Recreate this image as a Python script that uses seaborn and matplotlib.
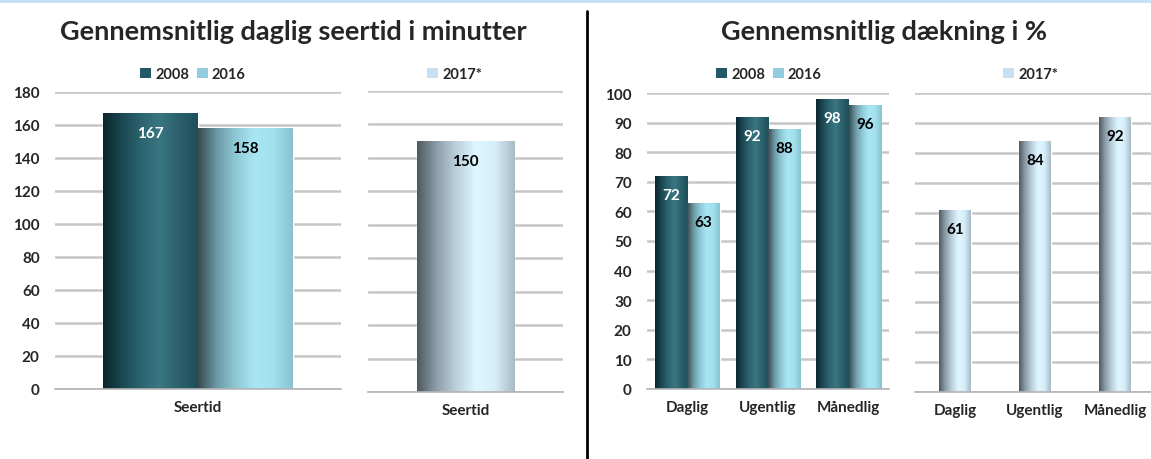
import matplotlib
matplotlib.use("Agg")
import matplotlib.pyplot as plt
import numpy as np
import pandas as pd
import seaborn as sns
from matplotlib.colors import LinearSegmentedColormap
from matplotlib.patches import Patch, Rectangle
from matplotlib.lines import Line2D

# data
seertid_kat = ["Seertid"]
seertid_2008 = [167]
seertid_2016 = [158]
seertid_2017 = [150]

daekning_kat = ["Daglig", "Ugentlig", "Månedlig"]
daekning_2008 = [72, 92, 98]
daekning_2016 = [63, 88, 96]
daekning_2017 = [61, 84, 92]

aar_gammel = ["2008", "2016"]
aar_ny = ["2017*"]

titel_venstre = "Gennemsnitlig daglig seertid i minutter"
titel_hoejre = "Gennemsnitlig dækning i %"

# farver
legend_farver = {"2008": "#215a66", "2016": "#93cddd", "2017*": "#c6e0f2"}
gradienter = {
    "2008": ["#0b252c", "#1b4852", "#2c6470", "#3a7682", "#2b606c", "#1d4f5a"],
    "2016": ["#3a4a50", "#6c9aa6", "#90c9d6", "#a9e6f4", "#a3e0ee", "#86c2d0"],
    "2017*": ["#4c5962", "#8d9eaa", "#bccfdb", "#def6ff", "#d6eef9", "#a9bac4"],
}
tekst_farver = {"2008": "white", "2016": "black", "2017*": "black"}

W, H = 1151, 460

sns.set_style("white")
plt.rcParams["font.family"] = ["Lato", "DejaVu Sans"]
plt.rcParams["font.weight"] = "bold"

fig = plt.figure(figsize=(W / 100, H / 100), dpi=100)


def px_axes(x0, x1, y_top, y_bund):
    return fig.add_axes([x0 / W, 1 - y_bund / H, (x1 - x0) / W, (y_bund - y_top) / H])


def tegn(ax, kategorier, serier, niveauer, bredde, ymax, ystep, vis_y):
    rows = []
    for niveau, vaerdier in zip(niveauer, serier):
        for k, v in zip(kategorier, vaerdier):
            rows.append({"kategori": k, "værdi": v, "år": niveau})
    df = pd.DataFrame(rows)
    sns.barplot(data=df, x="kategori", y="værdi", hue="år", hue_order=niveauer,
                order=kategorier, palette=legend_farver, width=bredde,
                saturation=1, legend=False, ax=ax, errorbar=None)

    for container, niveau in zip(ax.containers, niveauer):
        cmap = LinearSegmentedColormap.from_list(niveau, gradienter[niveau])
        for bar, v in zip(container.patches, container.datavalues):
            x0, y0 = bar.get_x(), bar.get_y()
            w, h = bar.get_width(), bar.get_height()
            img = ax.imshow(np.linspace(0, 1, 256)[None, :], cmap=cmap,
                            extent=[x0, x0 + w, y0, y0 + h], aspect="auto",
                            zorder=bar.get_zorder(), interpolation="bicubic")
            img.set_clip_path(bar)
            ax.annotate(f"{v:.0f}", (x0 + w / 2, y0 + h), xytext=(0, -14),
                        textcoords="offset points", ha="center", va="center",
                        fontsize=11, fontweight="bold",
                        color=tekst_farver[niveau], zorder=5)

    n = len(kategorier)
    ax.set_xlim(-0.5, n - 0.5)
    ax.set_ylim(0, ymax)
    ax.set_yticks(np.arange(0, ymax + 1, ystep))
    ax.set_xticks(range(n))
    ax.set_xticklabels(kategorier)
    ax.set_xticks(np.arange(-0.5, n), minor=True)
    ax.set_xlabel("")
    ax.set_ylabel("")
    ax.yaxis.grid(True, color="#c6c6c6", lw=1.8)
    ax.xaxis.grid(False)
    ax.set_axisbelow(True)
    for s in ["top", "right", "left"]:
        ax.spines[s].set_visible(False)
    ax.spines["bottom"].set_color("#b4b4b4")
    ax.spines["bottom"].set_linewidth(1.2)
    ax.tick_params(axis="x", which="minor", length=5, width=1, color="#9a9a9a")
    ax.tick_params(axis="x", which="major", length=0, pad=8, labelsize=11)
    ax.tick_params(axis="y", length=0, pad=11, labelsize=11, labelleft=vis_y)


def legende(ax, niveauer, cx):
    handles = [Patch(facecolor=legend_farver[a], edgecolor="none") for a in niveauer]
    ax.legend(handles, niveauer, loc="center", bbox_to_anchor=(cx / W, 1 - 75 / H),
              bbox_transform=fig.transFigure, ncol=len(niveauer), frameon=False,
              handlelength=0.75, handleheight=0.75, handletextpad=0.3,
              columnspacing=0.5, prop={"size": 10.5, "weight": "bold"})


ax1 = px_axes(55, 341, 93, 390)
tegn(ax1, seertid_kat, [seertid_2008, seertid_2016], aar_gammel, 0.664, 180, 20, True)
legende(ax1, aar_gammel, 193)

ax2 = px_axes(368, 563, 92, 393)
tegn(ax2, seertid_kat, [seertid_2017], aar_ny, 0.5, 180, 20, False)
legende(ax2, aar_ny, 455)

ax3 = px_axes(647, 889, 94, 390)
tegn(ax3, daekning_kat, [daekning_2008, daekning_2016], aar_gammel, 0.8, 100, 10, True)
legende(ax3, aar_gammel, 769)

ax4 = px_axes(915, 1155, 94, 393)
tegn(ax4, daekning_kat, [daekning_2017], aar_ny, 0.4, 100, 10, False)
legende(ax4, aar_ny, 1031)

fig.text(293.5 / W, 1 - 32 / H, titel_venstre, ha="center", va="center",
         fontsize=19.5, fontweight="bold")
fig.text(884 / W, 1 - 32 / H, titel_hoejre, ha="center", va="center",
         fontsize=19.5, fontweight="bold")

fig.add_artist(Rectangle((0, 1 - 4 / H), 1, 4 / H, transform=fig.transFigure,
                         facecolor="#c9e1f3", lw=0))
fig.add_artist(Line2D([587 / W, 587 / W], [0, 1 - 12 / H], color="black", lw=2,
                      transform=fig.transFigure))

fig.savefig("out.png", dpi=100)
